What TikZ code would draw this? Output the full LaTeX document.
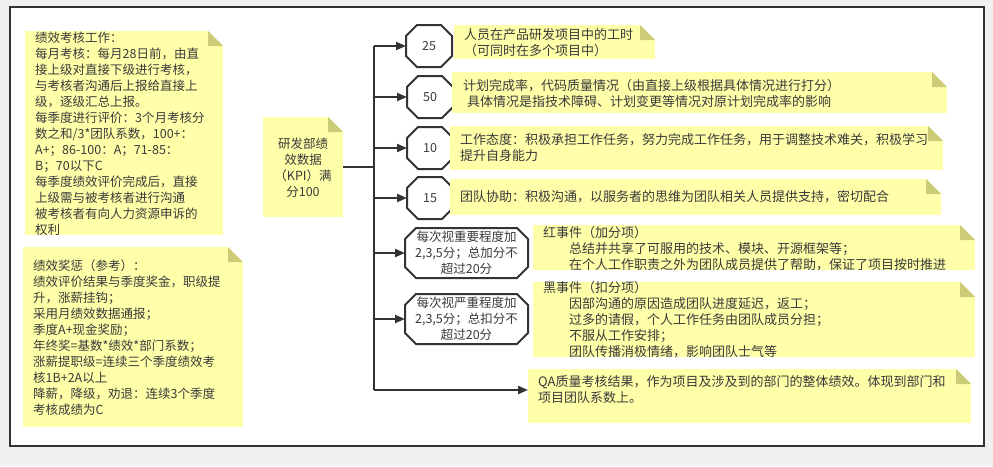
\documentclass[tikz,border=0pt]{standalone}
\usepackage{fontspec}
\setmainfont{Noto Sans CJK SC}
\usetikzlibrary{arrows.meta,calc}
\definecolor{notey}{HTML}{FFFFAA}
\definecolor{foldy}{HTML}{CCCC77}
\definecolor{ink}{HTML}{333333}
\definecolor{txt}{HTML}{3A3A3A}
\definecolor{bgout}{HTML}{F0F0F0}
\newcommand\notefold[1]{%
  \fill[white] ($(#1.north east)+(-15,0)$) -- (#1.north east) -- ($(#1.north east)+(0,15)$) -- cycle;
  \fill[foldy] ($(#1.north east)+(-15,0)$) -- ($(#1.north east)+(-15,15)$) -- ($(#1.north east)+(0,15)$) -- cycle;}
\newcommand\octo[2]{%
  \draw[octline] ($(#1.north west)+(#2,0)$) -- ($(#1.north east)+(-#2,0)$) -- ($(#1.north east)+(0,#2)$) -- ($(#1.south east)+(0,-#2)$) -- ($(#1.south east)+(-#2,0)$) -- ($(#1.south west)+(#2,0)$) -- ($(#1.south west)+(0,-#2)$) -- ($(#1.north west)+(0,#2)$) -- cycle;}
\tikzset{
  notebox/.style={fill=notey, draw=none, inner sep=0pt, outer sep=0pt, anchor=north west},
  ltext/.style={font=\fontsize{12.5}{16}\selectfont, text=txt, align=left, inner sep=0pt, anchor=west},
  rtext/.style={font=\fontsize{13}{16}\selectfont, text=txt, align=left, inner sep=0pt, anchor=west},
  octnode/.style={draw=none, inner sep=0pt, outer sep=0pt, font=\fontsize{12.5}{16}\selectfont, text=txt, align=center},
  octline/.style={draw=ink, line width=2pt, line join=miter},
  conn/.style={draw=ink, line width=2pt},
  arr/.style={conn, -{Triangle[length=10pt,width=8pt]}},
}
\begin{document}
\begin{tikzpicture}[x=1pt,y=-1pt]
\useasboundingbox (0,0) rectangle (993,466);
\fill[bgout] (0,0) rectangle (993,466);
\fill[white] (10,7) rectangle (984,446);
\draw[ink, line width=2.5pt] (10,7) rectangle (984,446);

% left notes
\node[notebox, minimum width=198pt, minimum height=204pt] (n1) at (25,31) {};
\notefold{n1}
\node[ltext] (t1) at (35,133.5) {绩效考核工作：\\每月考核：每月28日前，由直\\接上级对直接下级进行考核，\\与考核者沟通后上报给直接上\\级，逐级汇总上报。\\每季度进行评价：3个月考核分\\数之和/3*团队系数，100+：\\A+；86-100：A；71-85：\\B；70以下C\\每季度绩效评价完成后，直接\\上级需与被考核者进行沟通\\被考核者有向人力资源申诉的\\权利};

\node[notebox, minimum width=220pt, minimum height=180pt] (n2) at (23,247) {};
\notefold{n2}
\node[ltext] (t2) at (33,338) {绩效奖惩（参考）：\\绩效评价结果与季度奖金，职级提\\升，涨薪挂钩；\\采用月绩效数据通报；\\季度A+现金奖励；\\年终奖=基数*绩效*部门系数；\\涨薪提职级=连续三个季度绩效考\\核1B+2A以上\\降薪，降级，劝退：连续3个季度\\考核成绩为C};

% KPI note
\node[notebox, minimum width=80pt, minimum height=100pt] (kpi) at (263,117) {};
\notefold{kpi}
\node[ltext, align=center, anchor=center] (tk) at (303,168) {研发部绩\\效数据\\（KPI）满\\分100};

% octagons
\node[octnode, minimum width=46pt, minimum height=42pt] (o25) at (429,46) {25};
\octo{o25}{11}
\node[octnode, minimum width=46pt, minimum height=42pt] (o50) at (430,97) {50};
\octo{o50}{11}
\node[octnode, minimum width=46pt, minimum height=42pt] (o10) at (430,148) {10};
\octo{o10}{11}
\node[octnode, minimum width=46pt, minimum height=42pt] (o15) at (430,198) {15};
\octo{o15}{11}
\node[octnode, minimum width=123pt, minimum height=50pt] (ored) at (466.5,253) {每次视重要程度加\\2,3,5分；总加分不\\超过20分};
\octo{ored}{11}
\node[octnode, minimum width=123pt, minimum height=50pt] (oblk) at (466.5,319) {每次视严重程度加\\2,3,5分；总扣分不\\超过20分};
\octo{oblk}{11}

% right notes
\node[notebox, minimum width=201pt, minimum height=34pt] (r25) at (454,25) {};
\notefold{r25}
\node[rtext] (tr25) at (464,43) {人员在产品研发项目中的工时\\（可同时在多个项目中）};

\node[notebox, minimum width=495pt, minimum height=41pt] (r50) at (452,72) {};
\notefold{r50}
\node[rtext] (tr50) at (463,93) {计划完成率，代码质量情况（由直接上级根据具体情况进行打分）\\\hspace*{4pt}具体情况是指技术障碍、计划变更等情况对原计划完成率的影响};

\node[notebox, minimum width=493pt, minimum height=44pt] (r10) at (450,126) {};
\notefold{r10}
\node[rtext] (tr10) at (460,148) {工作态度：积极承担工作任务，努力完成工作任务，用于调整技术难关，积极学习\\提升自身能力};

\node[notebox, minimum width=491pt, minimum height=36pt] (r15) at (450,179) {};
\notefold{r15}
\node[rtext] (tr15) at (460,197) {团队协助：积极沟通，以服务者的思维为团队相关人员提供支持，密切配合};

\node[notebox, minimum width=442pt, minimum height=45pt] (rred) at (533,225) {};
\notefold{rred}
\node[rtext] (trred) at (543,249) {红事件（加分项）\\\hspace*{26pt}总结并共享了可服用的技术、模块、开源框架等；\\\hspace*{26pt}在个人工作职责之外为团队成员提供了帮助，保证了项目按时推进};

\node[notebox, minimum width=442pt, minimum height=75pt] (rblk) at (533,282) {};
\notefold{rblk}
\node[rtext] (trblk) at (543,320) {黑事件（扣分项）\\\hspace*{26pt}因部沟通的原因造成团队进度延迟，返工；\\\hspace*{26pt}过多的请假，个人工作任务由团队成员分担；\\\hspace*{26pt}不服从工作安排；\\\hspace*{26pt}团队传播消极情绪，影响团队士气等};

\node[notebox, minimum width=443pt, minimum height=54pt] (rqa) at (528,369) {};
\notefold{rqa}
\node[rtext] (trqa) at (538,390) {QA质量考核结果，作为项目及涉及到的部门的整体绩效。体现到部门和\\项目团队系数上。};

% connectors
\coordinate (jtop) at (374,46);
\coordinate (jbot) at (374,390);
\draw[conn] (kpi.east) -- (kpi.east -| jtop);
\draw[conn] (jtop) -- (jbot);
\draw[arr] (jtop) -- (o25.west);
\draw[arr] (o50.west -| jtop) -- (o50.west);
\draw[arr] (o10.west -| jtop) -- (o10.west);
\draw[arr] (o15.west -| jtop) -- (o15.west);
\draw[arr] (ored.west -| jtop) -- (ored.west);
\draw[arr] (oblk.west -| jtop) -- (oblk.west);
\draw[arr] (jbot) -- (rqa.west |- jbot);
\end{tikzpicture}
\end{document}
